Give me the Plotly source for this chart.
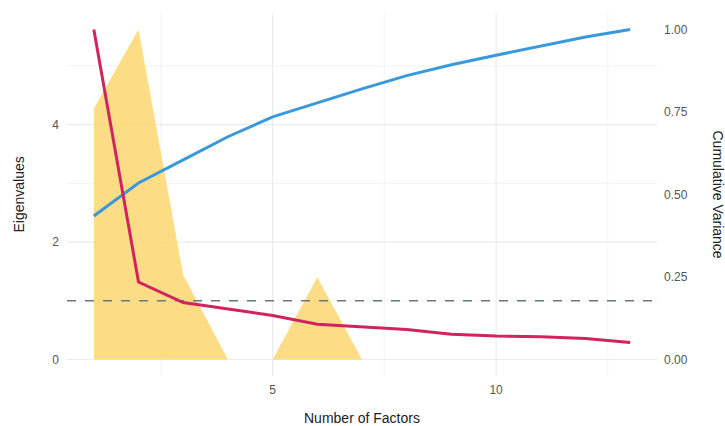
import plotly.graph_objects as go

# Scree data for a 13-variable factor analysis
factors = list(range(1, 14))
eigenvalues = [5.62, 1.32, 0.97, 0.86, 0.75, 0.60, 0.55, 0.51, 0.43, 0.40, 0.39, 0.36, 0.29]
cumulative_variance = [0.435, 0.535, 0.605, 0.675, 0.735, 0.778, 0.820, 0.860, 0.893, 0.922, 0.949, 0.977, 1.00]
density_band = [4.27, 5.62, 1.44, 0.0, 0.0, 1.40, 0.0, 0.0, 0.0, 0.0, 0.0, 0.0, 0.0]
kaiser_cutoff = 1.0

x_ticks = [5, 10]
left_ticks = [0, 2, 4]
right_ticks = [0.0, 0.25, 0.5, 0.75, 1.0]
right_labels = ["0.00", "0.25", "0.50", "0.75", "1.00"]

scale = max(eigenvalues)          # secondary axis: cumulative variance * max eigenvalue
x_lo, x_hi = 0.4, 13.6
y_lo, y_hi = -0.28, 5.90

fig = go.Figure()

fig.add_trace(go.Scatter(
    x=factors, y=density_band, mode="lines", line=dict(width=0),
    fill="tozeroy", fillcolor="rgba(251,214,110,0.85)", hoverinfo="skip",
))

fig.add_trace(go.Scatter(
    x=[x_lo, x_hi], y=[kaiser_cutoff, kaiser_cutoff], mode="lines",
    line=dict(color="#6b7780", width=1.6, dash="dash"),
))

fig.add_trace(go.Scatter(
    x=factors, y=[v * scale for v in cumulative_variance], mode="lines",
    line=dict(color="#3a98dc", width=3),
))

fig.add_trace(go.Scatter(
    x=factors, y=eigenvalues, mode="lines",
    line=dict(color="#d1235f", width=3),
))

# invisible trace that carries the secondary axis
fig.add_trace(go.Scatter(x=[None], y=[None], yaxis="y2", showlegend=False))

grid = "#ebebeb"
tick_font = dict(family="Liberation Sans, Arial, sans-serif", size=12, color="#555555")
title_font = dict(family="Liberation Sans, Arial, sans-serif", size=14, color="#222222")

fig.update_layout(
    width=725, height=426,
    margin=dict(l=67, r=68, t=13, b=50, autoexpand=False),
    paper_bgcolor="white", plot_bgcolor="white",
    showlegend=False,
    font=dict(family="Liberation Sans, Arial, sans-serif"),
    xaxis=dict(
        range=[x_lo, x_hi], tickvals=x_ticks, showgrid=False, automargin=False,
        zeroline=False, showline=False, ticks="", tickfont=tick_font, ticklabelstandoff=5,
    ),
    yaxis=dict(
        range=[y_lo, y_hi], tickvals=left_ticks, showgrid=False, automargin=False,
        zeroline=False, showline=False, ticks="", tickfont=tick_font, ticklabelstandoff=7,
    ),
    yaxis2=dict(
        overlaying="y", side="right", automargin=False,
        range=[y_lo / scale, y_hi / scale], tickvals=right_ticks, ticktext=right_labels,
        showgrid=False, zeroline=False, showline=False, ticks="", tickfont=tick_font,
        ticklabelstandoff=6,
    ),
)

# ggplot-style major and minor gridlines drawn beneath the data
shapes = []
for gx in [2.5, 5, 7.5, 10, 12.5]:
    shapes.append(dict(type="line", xref="x", yref="paper", x0=gx, x1=gx, y0=0, y1=1,
                       line=dict(color=grid, width=1.1 if gx in x_ticks else 0.6), layer="below"))
for gy in [0, 1, 2, 3, 4, 5]:
    shapes.append(dict(type="line", xref="paper", yref="y", x0=0, x1=1, y0=gy, y1=gy,
                       line=dict(color=grid, width=1.1 if gy in left_ticks else 0.6), layer="below"))
fig.update_layout(shapes=shapes)

# axis titles
fig.add_annotation(
    text="Number of Factors", xref="paper", yref="paper", x=0.5, y=0,
    yshift=-42, showarrow=False, xanchor="center", yanchor="middle", font=title_font,
)
fig.add_annotation(
    text="Eigenvalues", textangle=-90, xref="paper", yref="paper", x=0, y=0.5,
    xshift=-49, showarrow=False, xanchor="center", yanchor="middle", font=title_font,
)
fig.add_annotation(
    text="Cumulative Variance", textangle=90, xref="paper", yref="paper",
    x=1.0, y=0.5, xshift=61, showarrow=False, xanchor="center", yanchor="middle",
    font=title_font,
)

fig.write_html("out.html")
